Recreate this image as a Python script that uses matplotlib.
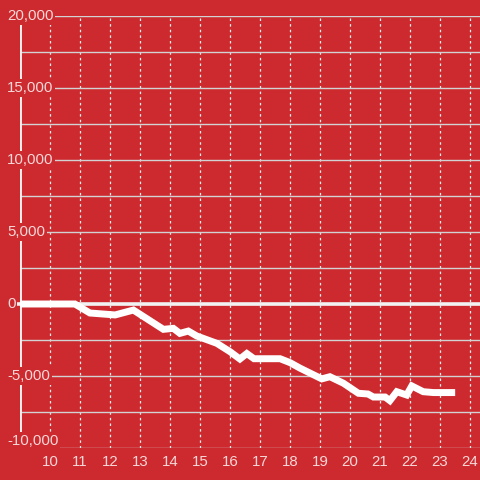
import numpy as np
import matplotlib.pyplot as plt

plt.rcParams['font.family'] = ['Liberation Sans', 'DejaVu Sans']

# values
hours = [9.0, 10.83, 11.33, 12.17, 12.78, 13.78, 14.11, 14.33, 14.61, 14.89,
         15.56, 16.0, 16.33, 16.56, 16.8, 17.67, 18.0, 18.33, 19.06, 19.33,
         19.78, 20.28, 20.6, 20.78, 21.17, 21.33, 21.56, 21.89, 22.06, 22.44,
         22.78, 23.39]
balance = [0, 0, -625, -760, -420, -1760, -1690, -2040, -1880, -2220,
           -2730, -3310, -3820, -3440, -3800, -3800, -4070, -4450, -5200, -5050,
           -5500, -6200, -6250, -6460, -6460, -6710, -6090, -6320, -5690, -6090,
           -6150, -6150]
x_ticks = list(range(10, 25))
y_labels = [20000, 15000, 10000, 5000, 0, -5000, -10000]

RED = '#cc2a2f'
PINK = '#f6d8d8'

fig = plt.figure(figsize=(4.8, 4.8), dpi=100, facecolor=RED)
ax = fig.add_axes([20 / 480, 32 / 480, 460 / 480, 432 / 480])
ax.set_facecolor(RED)
ax.set_xlim(9, 9 + 460 / 30)
ax.set_ylim(-10000, 20000)

for s in ax.spines.values():
    s.set_visible(False)

# grid
ax.set_xticks(x_ticks)
ax.set_yticks(np.arange(-10000, 20001, 2500))
ax.grid(axis='y', color='#d2d2d2', lw=1.0, zorder=0)
ax.grid(axis='x', color='#eeeeee', lw=0.9, linestyle=(0, (2, 2.5)), zorder=0)
ax.set_axisbelow(True)
ax.tick_params(length=0, labelsize=10.8, colors=PINK, pad=5)
ax.tick_params(axis='y', labelleft=False)

# left axis line and zero line
ax.axvline(9, color='#f2f2f2', lw=2.8, zorder=1)
ax.axhline(0, xmin=-0.008, xmax=1, color='#f2f2f2', lw=2.6, zorder=3, clip_on=False)

ax.plot(hours, balance, color='white', lw=5.0, solid_joinstyle='miter', zorder=4)

for v in y_labels:
    # the lowest label sits a little above its grid line
    va = 'bottom' if v == y_labels[-1] else 'center'
    ax.text(-13 / 460, v, f'{v:,}', transform=ax.get_yaxis_transform(),
            ha='left', va=va, fontsize=10.8, color=PINK, zorder=5,
            bbox=dict(facecolor=RED, edgecolor='none', pad=1.2), clip_on=False)

fig.savefig('out.png', dpi=100, facecolor=RED)
